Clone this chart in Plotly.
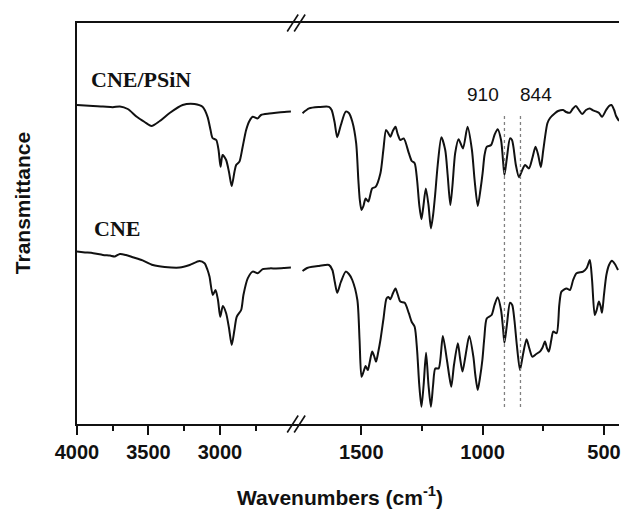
import plotly.graph_objects as go

# ---------------- data ----------------
# wavenumber (cm-1) and transmittance (arbitrary units), left block 4000-2500
psin_wn_hi = [4000, 3888, 3819, 3749, 3700, 3645, 3582, 3527, 3479, 3421, 3352, 3261, 3178, 3122,
              3087, 3066, 3052, 3026, 3010, 2996, 2982, 2957, 2937, 2918, 2899, 2887, 2864, 2843,
              2817, 2794, 2771, 2736, 2713, 2655, 2608, 2550, 2504]
psin_t_hi = [79.75, 79.5, 79.4, 79.2, 79.4, 78.75, 76.8, 75.5, 74.5, 75.75, 77.75, 79.75, 80, 79.3,
             76.8, 73.5, 71.5, 71, 68.5, 64.3, 67.25, 66, 63, 59.5, 63, 64.75, 65.6, 69,
             73.5, 75.75, 76.8, 76.4, 77.25, 77.6, 77.8, 78, 78.1]

psin_wn_lo = [1742, 1715, 1674, 1633, 1622, 1610, 1599, 1584, 1564, 1551, 1537, 1521, 1512, 1506,
              1499, 1491, 1482, 1471, 1455, 1441, 1421, 1409, 1398, 1389, 1380, 1370, 1359, 1350,
              1339, 1325, 1304, 1292, 1280, 1270, 1261, 1252, 1245, 1234, 1223, 1213, 1204, 1195,
              1185, 1170, 1154, 1144, 1133, 1124, 1113, 1099, 1081, 1062, 1044, 1033, 1020, 1009,
              1000, 992, 983, 965, 951, 938, 924, 916, 910, 900, 887, 879, 873, 863, 850, 840,
              825, 809, 795, 782, 771, 760, 750, 733, 722, 702, 689, 668, 656, 641, 629, 616,
              603, 590, 574, 558, 545, 531, 520, 508, 491, 479, 469, 458, 450, 438]
psin_t_lo = [77.7, 78.9, 79.25, 79.3, 78.5, 75.5, 71.7, 74.75, 78.1, 77.75, 75.6, 70.2, 61, 56,
             53.5, 54.5, 56.4, 55.6, 58.9, 59.3, 62.7, 68.5, 73.5, 72.75, 71.8, 73.25, 74.3, 72.5,
             71, 71.4, 67.7, 65.75, 65.2, 61, 54.75, 51.2, 54, 58.9, 54.75, 48.9, 52.25, 57.7,
             64.75, 71.7, 68.5, 62.25, 54.75, 59.75, 67.7, 71.2, 68.9, 74.3, 68.5, 61, 54.5, 58.5,
             62.7, 67.25, 69.3, 69.75, 72.25, 73.7, 71, 66, 62.25, 66.5, 71.4, 71, 69.3, 64.75, 61.7, 63,
             64.75, 63.9, 66.5, 69.3, 67.25, 64.2, 68.5, 75.2, 76.5, 77.7, 78.25, 78.5, 78, 77.8, 78.75, 79.5,
             78.5, 77.5, 78.5, 78.9, 78.4, 78.1, 77.75, 76.8, 78.5, 79.5, 79.75, 78.5, 77, 75.75]

cne_wn_hi = [4000, 3944, 3886, 3819, 3770, 3735, 3700, 3658, 3610, 3541, 3470, 3387, 3282, 3212,
             3143, 3108, 3087, 3073, 3050, 3031, 3014, 2998, 2980, 2957, 2937, 2918, 2899, 2883,
             2852, 2836, 2806, 2771, 2736, 2701, 2655, 2608, 2550, 2504]
cne_t_hi = [43.1, 42.9, 42.7, 42.25, 42.1, 41.9, 42.5, 42.25, 41.7, 40.9, 39.75, 39.25, 39.1, 39.75,
            40.75, 40.2, 38.5, 36.8, 32.25, 33.5, 31, 26.8, 29.5, 27.7, 24, 19.75, 23.5, 26.8,
            28.5, 32.25, 36.4, 38.1, 37.7, 38.7, 38.9, 38.9, 39, 39.1]

cne_wn_lo = [1742, 1723, 1701, 1674, 1633, 1619, 1609, 1599, 1584, 1564, 1551, 1537, 1516, 1507,
             1499, 1491, 1482, 1473, 1465, 1455, 1447, 1439, 1430, 1421, 1408, 1396, 1388, 1380,
             1369, 1359, 1349, 1339, 1321, 1304, 1292, 1280, 1270, 1261, 1252, 1243, 1233, 1223,
             1213, 1204, 1195, 1181, 1164, 1147, 1138, 1129, 1118, 1102, 1093, 1083, 1070, 1055,
             1038, 1030, 1020, 1011, 1001, 993, 983, 963, 951, 938, 924, 916, 910, 900, 887, 878,
             869, 859, 846, 834, 819, 808, 795, 779, 764, 754, 743, 735, 727, 717, 709, 695, 684,
             675, 654, 640, 627, 613, 586, 571, 558, 549, 538, 530, 521, 514, 508, 500, 490, 479,
             467, 455, 442]
cne_t_lo = [38.25, 39, 39.3, 39.5, 39.75, 38.5, 35.5, 32.8, 35.5, 38.1, 37.5, 36, 31, 21,
            11.8, 13, 14.5, 13.5, 15.5, 18.1, 17, 15.6, 18, 21, 26.5, 31.4, 31.75, 31.2,
            32.75, 33.9, 32.25, 30.6, 30.3, 27.7, 25.5, 24.3, 18.5, 9.75, 4.3, 9.75, 17.8, 9.75,
            4.3, 9.75, 13.9, 13.9, 22, 16, 12.25, 9.3, 14.75, 20.2, 16.5, 13.1, 17.25, 22,
            16.8, 12.25, 8.5, 11.5, 16, 21.5, 26.4, 27.25, 29.75, 31.7, 28.5, 24, 20.3, 24.75, 30.3, 29.75,
            26, 19.75, 13.5, 17.25, 21.2, 19, 16.8, 17.5, 18.1, 19, 20.6, 19, 18.1, 21, 23.1, 22.7, 29.75,
            33.1, 33.9, 33.5, 36, 37.7, 38.1, 39, 41, 36, 27.25, 28.5, 30.6, 29.5, 27.8, 32.25, 37.25, 39.75,
            40.8, 40, 38.5]

marker_wn = [910, 844]
marker_labels = ["910", "844"]
left_ticks = [4000, 3500, 3000]
left_minor = [3750, 3250, 2750]
right_ticks = [1500, 1000, 500]
right_minor = [1250, 750]

# ---------------- layout geometry ----------------
W, H = 621, 509
ML, MR, MT, MB = 77, 0, 23, 85
PW = W - ML - MR
PH = H - MT - MB
split = 221 / PW  # break position (fraction of plot width)

line_style = dict(color="#111111", width=2)
fig = go.Figure()
for wn, t, ax in [(psin_wn_hi, psin_t_hi, "x"), (psin_wn_lo, psin_t_lo, "x2"),
                  (cne_wn_hi, cne_t_hi, "x"), (cne_wn_lo, cne_t_lo, "x2")]:
    fig.add_trace(go.Scatter(x=wn, y=t, xaxis=ax, yaxis="y", mode="lines",
                             line=dict(shape="spline", smoothing=0.7, **line_style),
                             showlegend=False, hoverinfo="skip"))

tickfont = dict(family="Liberation Sans, Arial, sans-serif", size=20, color="#111111",
                weight="bold")
axis_common = dict(showline=True, linecolor="#111111", linewidth=1.6, mirror=True,
                   ticks="outside", ticklen=9, tickwidth=1.6, tickcolor="#111111",
                   showgrid=False, zeroline=False, tickfont=tickfont, anchor="y",
                   ticklabeloverflow="allow", ticklabelstandoff=0)

fig.update_layout(
    width=W, height=H,
    margin=dict(l=ML, r=MR, t=MT, b=MB),
    paper_bgcolor="white", plot_bgcolor="white",
    xaxis=dict(domain=[0, split], range=[4000, 2460], tickmode="array", tickvals=left_ticks,
               minor=dict(tickmode="array", tickvals=left_minor, ticks="outside", ticklen=5,
                          tickwidth=1.6, tickcolor="#111111"),
               **axis_common),
    xaxis2=dict(domain=[split, 1], range=[1764, 438], tickmode="array", tickvals=right_ticks,
                minor=dict(tickmode="array", tickvals=right_minor, ticks="outside", ticklen=5,
                           tickwidth=1.6, tickcolor="#111111"),
                **axis_common),
    yaxis=dict(domain=[0, 1], range=[0, 100.25], showline=True, linecolor="#111111",
               linewidth=1.6, showticklabels=False, ticks="", showgrid=False, zeroline=False,
               anchor="x"),
)

# dotted marker lines and labels
for wn, lab, anc, sh in zip(marker_wn, marker_labels, ["right", "left"], [-3, -2]):
    fig.add_shape(type="line", xref="x2", yref="y", x0=wn, x1=wn, y0=4.25, y1=77.75,
                  line=dict(color="#808080", width=1.3, dash="dot"))
    fig.add_annotation(x=wn, y=82.3, xref="x2", yref="y", text=lab, showarrow=False,
                       xanchor=anc, yanchor="middle", xshift=sh,
                       font=dict(family="Liberation Sans, Arial, sans-serif", size=19, color="#111111"))

# sample labels
serif = dict(family="Liberation Serif, Times New Roman, serif", size=22, color="#111111")
fig.add_annotation(x=3916, y=86.1, xref="x", yref="y", text="<b>CNE/PSiN</b>", showarrow=False,
                   xanchor="left", yanchor="middle", font=serif)
fig.add_annotation(x=3895, y=48.9, xref="x", yref="y", text="<b>CNE</b>", showarrow=False,
                   xanchor="left", yanchor="middle", font=serif)

# axis titles
titlefont = dict(family="Liberation Sans, Arial, sans-serif", size=21, color="#111111")
fig.add_annotation(x=(341 - ML) / PW, y=(MT + PH - 496) / PH, xref="paper", yref="paper",
                   text="<b>Wavenumbers (cm<sup>-1</sup>)</b>", showarrow=False,
                   xanchor="center", yanchor="middle", font=titlefont)
fig.add_annotation(x=(22.5 - ML) / PW, y=(MT + PH - 203.5) / PH, xref="paper", yref="paper",
                   text="<b>Transmittance</b>", showarrow=False, textangle=-90,
                   xanchor="center", yanchor="middle", font=titlefont)

# axis break marks "//" at top and bottom
for yc in [0.0, 1.0]:
    for off in [-7, 0]:
        fig.add_shape(type="line", xref="paper", yref="paper",
                      x0=split + (off - 3) / PW, x1=split + (off + 8) / PW,
                      y0=yc - 8.5 / PH, y1=yc + 8.5 / PH,
                      line=dict(color="#111111", width=1.6))

fig.write_html("out.html")
